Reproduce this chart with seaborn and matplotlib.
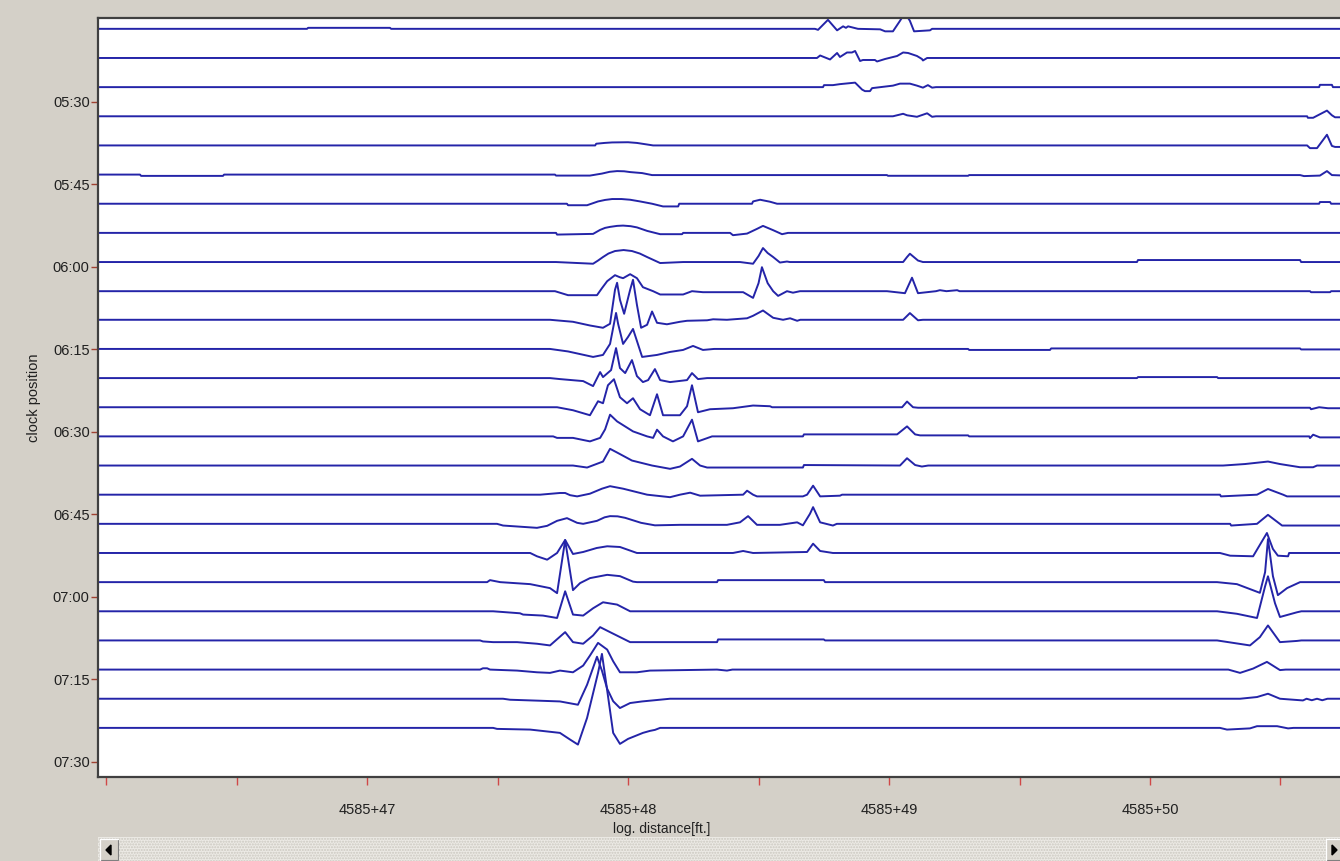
import numpy as np
import pandas as pd
import matplotlib
matplotlib.use("Agg")
import matplotlib.pyplot as plt
from matplotlib.patches import Rectangle, Polygon
import seaborn as sns

# ---------------------------------------------------------------------------
# Sensor clock positions (minutes after 00:00), one trace per sensor
clock_positions = [316.7, 322.0, 327.3, 332.6, 337.9, 343.2, 348.5, 353.8,
                   359.1, 364.4, 369.6, 374.9, 380.2, 385.5, 390.8, 396.1,
                   401.4, 406.7, 412.0, 417.3, 422.6, 427.9, 433.2, 438.5,
                   443.8]

# Clock-axis ticks (minutes) and their labels
clock_ticks = [330, 345, 360, 375, 390, 405, 420, 435, 450]
clock_labels = ["05:30", "05:45", "06:00", "06:15", "06:30", "06:45",
                "07:00", "07:15", "07:30"]

# Distance-axis ticks (ft past station 4585+00) and their labels
dist_ticks = [46.0, 46.5, 47.0, 47.5, 48.0, 48.5, 49.0, 49.5, 50.0, 50.5]
dist_labels = ["", "", "4585+47", "", "4585+48", "", "4585+49", "", "4585+50", ""]

# Sensor signals: (distance ft, amplitude) vertices, top sensor first
trace_00 = [(45.95, 0), (46.770, 0), (46.774, 1), (47.088, 1), (47.092, 0), (48.716, 0), (48.728, -1),
            (48.766, 9), (48.801, -1.5), (48.824, 2.5), (48.835, 1), (48.843, 2.5), (48.881, 0),
            (48.966, -0.5), (48.985, -2.5), (49.015, -2.5), (49.042, 8), (49.061, 16), (49.080, 8),
            (49.096, -2.5), (49.157, -1.5), (49.165, 0), (50.75, 0)]
trace_01 = [(45.95, 0), (48.724, 0), (48.736, 2.5), (48.755, 0.5), (48.774, -1.5), (48.801, 5), (48.812, 1),
            (48.839, 5.5), (48.858, 5.5), (48.870, 7), (48.889, -3), (48.900, -2), (48.946, -2),
            (48.954, -3.5), (48.985, -1), (49.031, 2), (49.054, 5.5), (49.073, 5), (49.107, 2),
            (49.126, -1), (49.130, -2.5), (49.146, 0), (50.75, 0)]
trace_02 = [(45.95, 0), (48.747, 0), (48.751, 2), (48.785, 2), (48.812, 3), (48.870, 4.5), (48.897, -2.5),
            (48.908, -4), (48.927, -4), (48.935, -1), (49.015, 1.5), (49.042, 3.5), (49.080, 3.5),
            (49.107, 1.5), (49.130, -0.5), (49.149, 2), (49.165, -0.5), (49.180, 0), (50.648, 0),
            (50.651, 2.3), (50.697, 2.3), (50.701, 0), (50.75, 0)]
trace_03 = [(45.95, 0), (49.015, 0), (49.054, 2.5), (49.069, 1), (49.107, -0.5), (49.146, 3), (49.165, -0.5),
            (49.180, 0), (50.602, 0), (50.605, -1.5), (50.625, -1.5), (50.678, 5.7), (50.697, 1),
            (50.709, -1), (50.75, -1)]
trace_04 = [(45.95, 0), (47.874, 0), (47.878, 1.7), (47.910, 2.5), (47.939, 3), (48.000, 3.2), (48.034, 2.5),
            (48.084, 0.5), (48.096, 0), (50.602, 0), (50.613, -2.7), (50.640, -2.7), (50.678, 10.7),
            (50.697, -0.5), (50.709, -1.5), (50.75, -1.5)]
trace_05 = [(45.95, 0), (46.130, 0), (46.134, -1.3), (46.448, -1.3), (46.452, 0), (47.720, 0), (47.724, -1),
            (47.854, -1), (47.900, 1), (47.930, 2.8), (47.958, 3.5), (47.985, 3.3), (48.008, 2.5),
            (48.054, 1.5), (48.092, -0.5), (48.992, -0.5), (48.996, -1.2), (49.303, -1.2), (49.307, -0.5),
            (50.575, -0.5), (50.590, -1.5), (50.651, -1), (50.678, 3.5), (50.697, -0.5), (50.75, -1)]
trace_06 = [(45.95, 0), (47.766, 0), (47.770, -1.5), (47.843, -1.5), (47.885, 2.3), (47.912, 3.8),
            (47.939, 4.7), (47.975, 4.7), (48.008, 4), (48.046, 2.3), (48.092, 0), (48.134, -2.7),
            (48.192, -2.7), (48.196, 0), (48.475, 0), (48.479, 2.3), (48.506, 4), (48.544, 2), (48.571, 0),
            (50.648, 0), (50.651, 1.7), (50.690, 1.7), (50.694, 0), (50.75, 0)]
trace_07 = [(45.95, 0), (47.724, 0), (47.728, -1.7), (47.866, -1), (47.893, 3), (47.912, 5), (47.931, 6),
            (47.958, 7), (47.981, 7.3), (48.010, 6.7), (48.034, 5.5), (48.073, 2), (48.123, -1.3),
            (48.207, -1.3), (48.211, 0), (48.391, 0), (48.402, -2.3), (48.456, -0.7), (48.494, 4),
            (48.517, 7), (48.556, 2.7), (48.590, -1.3), (48.613, 0), (50.75, 0)]
trace_08 = [(45.95, 0), (47.724, 0), (47.866, -1.7), (47.885, 1.5), (47.904, 5), (47.925, 8.5), (47.950, 11),
            (47.983, 12), (48.015, 11), (48.045, 8.5), (48.073, 5), (48.123, -1), (48.211, 0), (48.429, 0),
            (48.479, -1.7), (48.500, 6), (48.517, 14), (48.535, 9), (48.556, 5), (48.582, -0.5),
            (48.609, 0.5), (48.620, 0), (49.054, 0), (49.069, 5), (49.080, 8.3), (49.111, 1.5), (49.130, 0),
            (49.950, 0), (49.954, 2), (50.575, 2), (50.579, 0), (50.75, 0)]
trace_09 = [(45.95, 0), (47.720, 0), (47.770, -4), (47.881, -4), (47.900, 3), (47.920, 10), (47.950, 16),
            (47.968, 14), (47.981, 13), (48.008, 17), (48.034, 13), (48.057, 4), (48.096, 0),
            (48.123, -3.3), (48.211, -3.3), (48.245, 0), (48.287, -1), (48.441, -1), (48.479, -6.7),
            (48.500, 8), (48.513, 24), (48.535, 8), (48.556, 0), (48.575, -4.7), (48.609, 0), (48.632, -1.5),
            (48.659, 0), (48.992, 0), (49.061, -2), (49.088, 13.5), (49.111, -2), (49.180, 0), (49.195, 1),
            (49.220, 0), (49.261, 1), (49.270, 0), (50.613, 0), (50.617, -1), (50.690, -1), (50.694, 0),
            (50.75, 0)]
trace_10 = [(45.95, 0), (47.701, 0), (47.789, -2), (47.854, -5.7), (47.904, -8), (47.931, -4), (47.950, 30),
            (47.958, 37), (47.969, 20), (47.985, 6), (48.008, 30), (48.019, 40), (48.034, 15), (48.050, -8),
            (48.073, -5), (48.092, 8.3), (48.111, -3), (48.149, -4.5), (48.199, -2), (48.226, -1),
            (48.303, -0.5), (48.326, 0.5), (48.379, 0), (48.456, 1.5), (48.479, 4), (48.517, 9.3),
            (48.556, 2), (48.594, 0), (48.621, 1.5), (48.648, -1), (48.660, 0), (49.054, 0), (49.080, 6.7),
            (49.111, -0.5), (49.130, 0), (50.75, 0)]
trace_11 = [(45.95, 0), (47.701, 0), (47.770, -2.5), (47.866, -8), (47.904, -6), (47.931, 5), (47.954, 36),
            (47.962, 25), (47.981, 5), (48.000, 12), (48.019, 20), (48.034, 8), (48.054, -8), (48.111, -6),
            (48.161, -3), (48.211, -1), (48.249, 3), (48.287, -1), (48.330, 0), (49.303, 0), (49.307, -1),
            (49.617, -1), (49.621, 0.5), (50.575, 0.5), (50.579, -0.5), (50.75, -0.5)]
trace_12 = [(45.95, 0), (47.701, 0), (47.739, -1), (47.828, -3), (47.866, -8), (47.893, 6), (47.904, 1),
            (47.935, 8), (47.954, 30), (47.969, 10), (47.989, 5), (48.015, 18), (48.034, 2), (48.057, -4),
            (48.077, -2), (48.103, 9), (48.123, -2), (48.161, -4), (48.226, -2), (48.245, 5), (48.268, -1),
            (48.303, 0), (49.950, 0), (49.954, 1), (50.257, 1), (50.261, 0), (50.75, 0)]
trace_13 = [(45.95, 0), (47.728, 0), (47.789, -3), (47.854, -8), (47.885, 6), (47.904, 4), (47.923, 22),
            (47.946, 28), (47.969, 10), (47.996, 4), (48.019, 9), (48.046, -2), (48.084, -8), (48.111, 13),
            (48.134, -8), (48.199, -8), (48.226, 1), (48.245, 22), (48.268, -5), (48.314, -2), (48.402, -1),
            (48.479, 1.7), (48.544, 1), (48.552, 0), (49.050, 0), (49.069, 5.7), (49.092, 0), (49.111, -0.5),
            (50.613, -0.5), (50.617, -2), (50.648, 0), (50.682, -1), (50.75, -1)]
trace_14 = [(45.95, 0), (47.713, 0), (47.728, -1.5), (47.789, -1.5), (47.854, -5), (47.893, -1.5), (47.912, 7),
            (47.931, 21.7), (47.958, 15), (48.019, 5), (48.073, 0), (48.096, -1.5), (48.111, 6.7), (48.134, 0),
            (48.172, -5), (48.211, 0), (48.245, 16.7), (48.268, -5), (48.322, 0), (48.670, 0), (48.674, 2),
            (49.031, 2), (49.069, 10), (49.100, 2), (49.119, 1), (49.303, 1), (49.307, 0), (50.610, 0),
            (50.613, -1.7), (50.625, 1.7), (50.651, -1), (50.75, -1)]
trace_15 = [(45.95, 0), (47.663, 0), (47.789, 0), (47.843, -2), (47.904, 4), (47.931, 16.7), (47.958, 13),
            (48.015, 5), (48.092, 0), (48.161, -3.3), (48.199, -1), (48.245, 6.7), (48.276, 0), (48.303, -2),
            (48.670, -2), (48.674, 0.5), (49.042, 0), (49.069, 7.3), (49.100, 0.5), (49.126, -1), (49.150, 0),
            (50.280, 0), (50.364, 1.5), (50.452, 4), (50.498, 1.5), (50.575, -1.7), (50.625, -1.7),
            (50.640, 0), (50.75, 0)]
trace_16 = [(45.95, 0), (47.663, 0), (47.739, 1.7), (47.759, 1.7), (47.778, -0.5), (47.805, -1.7), (47.854, 1),
            (47.900, 6), (47.931, 8.5), (47.981, 6), (48.073, 0), (48.161, -2.5), (48.199, 0), (48.238, 2),
            (48.276, -1), (48.441, 0), (48.456, 4), (48.479, 0), (48.494, -1.7), (48.670, -1.7), (48.686, 0),
            (48.709, 9), (48.736, -1.7), (48.812, -1), (48.820, 0), (50.268, 0), (50.272, -1.7), (50.410, 0),
            (50.452, 5.7), (50.510, 0), (50.525, -1.7), (50.75, -1.7)]
trace_17 = [(45.95, 0), (47.498, 0), (47.521, -1.7), (47.651, -4), (47.690, -2), (47.728, 3), (47.766, 5.7),
            (47.805, 1), (47.828, 0), (47.881, 3), (47.910, 6.5), (47.931, 7.7), (47.960, 7.5), (47.989, 6),
            (48.050, 1), (48.103, -1.5), (48.199, -1), (48.379, -1), (48.429, 1.5), (48.460, 7.7),
            (48.494, -1), (48.582, -1), (48.648, 1.5), (48.670, -1.5), (48.697, 10), (48.709, 16.7),
            (48.736, 1.5), (48.785, -1.7), (48.800, 0), (50.307, 0), (50.311, -1.7), (50.410, 0),
            (50.452, 9), (50.506, -1.7), (50.75, -1.7)]
trace_18 = [(45.95, 0), (47.625, 0), (47.651, -3.3), (47.690, -6.7), (47.728, 0), (47.759, 13), (47.789, -1),
            (47.828, 1), (47.880, 5), (47.920, 6.7), (47.969, 6), (48.034, 0), (48.402, 0), (48.441, 2),
            (48.479, 0), (48.686, 1), (48.709, 9.3), (48.736, 2), (48.785, 0), (50.268, 0), (50.307, -2.7),
            (50.395, -3.3), (50.448, 20), (50.471, 4), (50.490, -2.7), (50.529, -3.3), (50.533, 0), (50.75, 0)]
trace_19 = [(45.95, 0), (47.460, 0), (47.471, 2), (47.510, 0), (47.625, -2), (47.701, -6), (47.728, -11),
            (47.759, 42), (47.789, -8), (47.816, -1), (47.854, 4), (47.920, 7.3), (47.969, 6), (48.019, 0.5),
            (48.034, 0), (48.341, 0), (48.345, 2), (48.750, 2), (48.755, 0), (50.257, 0), (50.333, -2),
            (50.421, -10.7), (50.441, 10), (50.452, 43), (50.471, 6), (50.490, -13), (50.525, -6),
            (50.575, 0), (50.75, 0)]
trace_20 = [(45.95, 0), (47.483, 0), (47.586, -2), (47.598, -3.3), (47.674, -4.3), (47.728, -6.7), (47.759, 20),
            (47.789, -3.3), (47.828, -4.3), (47.866, 3), (47.904, 9), (47.958, 6.7), (48.008, 0), (50.257, 0),
            (50.333, -2.5), (50.410, -6.7), (50.441, 25), (50.452, 35), (50.479, 8), (50.498, -5.7),
            (50.563, -1), (50.580, 0), (50.75, 0)]
trace_21 = [(45.95, 0), (47.433, 0), (47.444, -1), (47.483, -1.7), (47.575, -1.7), (47.651, -3.3), (47.701, -5),
            (47.759, 8.3), (47.789, -1.7), (47.828, -3.3), (47.866, 5), (47.893, 13.3), (47.931, 8.3),
            (48.008, -1.7), (48.341, -1.7), (48.345, 1), (48.750, 1), (48.755, 0), (50.257, 0), (50.383, -5),
            (50.421, 3.3), (50.452, 15), (50.498, -1.7), (50.563, -0.5), (50.580, 0), (50.75, 0)]
trace_22 = [(45.95, 0), (47.433, 0), (47.444, 1.3), (47.460, 1.3), (47.471, 0), (47.575, -1), (47.651, -2.7),
            (47.701, -3.3), (47.739, -1), (47.789, -2.7), (47.828, 4), (47.854, 14), (47.885, 26.7),
            (47.920, 20), (47.943, 8.3), (47.969, -2.7), (48.034, -2.7), (48.084, -1), (48.341, 0),
            (48.379, -1), (48.400, 0), (50.300, 0), (50.345, -3.3), (50.395, 1), (50.448, 7.7), (50.498, -0.5),
            (50.520, 0), (50.75, 0)]
trace_23 = [(45.95, 0), (47.521, 0), (47.548, -1), (47.663, -2), (47.739, -2.7), (47.808, -6), (47.843, 14),
            (47.881, 42), (47.900, 28), (47.920, 10), (47.943, -2.5), (47.969, -9.3), (48.008, -4.3),
            (48.054, -2.7), (48.161, 0), (50.345, 0), (50.410, 1.7), (50.452, 5), (50.498, 0), (50.586, -1.7),
            (50.600, 0), (50.620, -1.5), (50.640, 0), (50.660, -1.5), (50.680, 0), (50.75, 0)]
trace_24 = [(45.95, 0), (47.483, 0), (47.498, -1), (47.625, -1.7), (47.739, -5), (47.778, -11.7),
            (47.808, -16.7), (47.843, 10), (47.885, 55), (47.900, 74), (47.916, 45), (47.943, -5),
            (47.969, -16), (48.000, -11), (48.057, -5), (48.084, -3), (48.103, -2), (48.123, 0), (50.268, 0),
            (50.295, -1.7), (50.383, -0.5), (50.410, 1.7), (50.487, 1.7), (50.529, -0.5), (50.550, 0),
            (50.75, 0)]

traces = [trace_00, trace_01, trace_02, trace_03, trace_04, trace_05, trace_06,
          trace_07, trace_08, trace_09, trace_10, trace_11, trace_12, trace_13,
          trace_14, trace_15, trace_16, trace_17, trace_18, trace_19, trace_20,
          trace_21, trace_22, trace_23, trace_24]

GAIN = 1 / 5.5          # minutes of clock axis per amplitude unit
BG = "#d4d0c8"
LINE = "#2424a8"
TICK_RED = "#d04848"
FONT = ["Liberation Sans", "DejaVu Sans"]

# ---------------------------------------------------------------------------
rows = []
for k, (pos, pts) in enumerate(zip(clock_positions, traces)):
    for dist, amp in pts:
        rows.append({"sensor": k, "distance": dist, "clock": pos - amp * GAIN})
df = pd.DataFrame(rows)

sns.set_style("white")
plt.rcParams["font.family"] = FONT

W, H = 1340, 861
fig = plt.figure(figsize=(W / 100, H / 100), dpi=100, facecolor=BG)
ax = fig.add_axes([98 / W, 1 - 777 / H, 1 - 98 / W, 759 / H])
ax.set_facecolor("white")

sns.lineplot(data=df, x="distance", y="clock", units="sensor", estimator=None,
             sort=False, color=LINE, linewidth=1.4, ax=ax, legend=False)

ax.set_xlim(45.969, 50.728)
ax.set_ylim(452.73, 314.73)

ax.set_yticks(clock_ticks)
ax.set_yticklabels(clock_labels)
ax.set_xticks(dist_ticks)
ax.set_xticklabels(dist_labels)
ax.set_xlabel("")
ax.set_ylabel("")

ax.tick_params(axis="y", left=True, direction="out", length=5, width=1.0,
               color="#a04030", labelsize=10.5, labelcolor="#202020", pad=1)
ax.tick_params(axis="x", bottom=True, direction="out", length=6, width=1.0,
               color=TICK_RED, labelsize=10.5, labelcolor="#202020", pad=13)

for side in ("left", "top", "bottom"):
    ax.spines[side].set_color("#404040")
    ax.spines[side].set_linewidth(1.6)
ax.spines["right"].set_visible(False)

fig.text(662 / W, 1 - 829 / H, "log. distance[ft.]", ha="center", va="center",
         fontsize=10, color="#202020")
fig.text(34 / W, 1 - 398 / H, "clock position", ha="center", va="center",
         rotation=90, fontsize=10.5, color="#202020")

# horizontal scroll bar under the plot
sb = fig.add_axes([98 / W, 0, 1 - 98 / W, 24 / H])
sb.set_xlim(98, W)
sb.set_ylim(0, 24)
sb.axis("off")
plt.rcParams["hatch.color"] = "#cbc8c0"
sb.add_patch(Rectangle((98, 0), W - 98, 24, facecolor="#eceae5", edgecolor="#cbc8c0",
                       hatch="......", linewidth=0))
for x0 in (100, 1326):
    sb.add_patch(Rectangle((x0, 1), 18, 21, facecolor=BG, edgecolor="#808080", linewidth=0.8))
    sb.plot([x0, x0, x0 + 18], [1, 22, 22], color="white", lw=1.0)
sb.add_patch(Polygon([[106, 11], [111, 6], [111, 16]], closed=True, color="black"))
sb.add_patch(Polygon([[1337, 11], [1332, 6], [1332, 16]], closed=True, color="black"))

fig.savefig("out.png", dpi=100, facecolor=BG)
